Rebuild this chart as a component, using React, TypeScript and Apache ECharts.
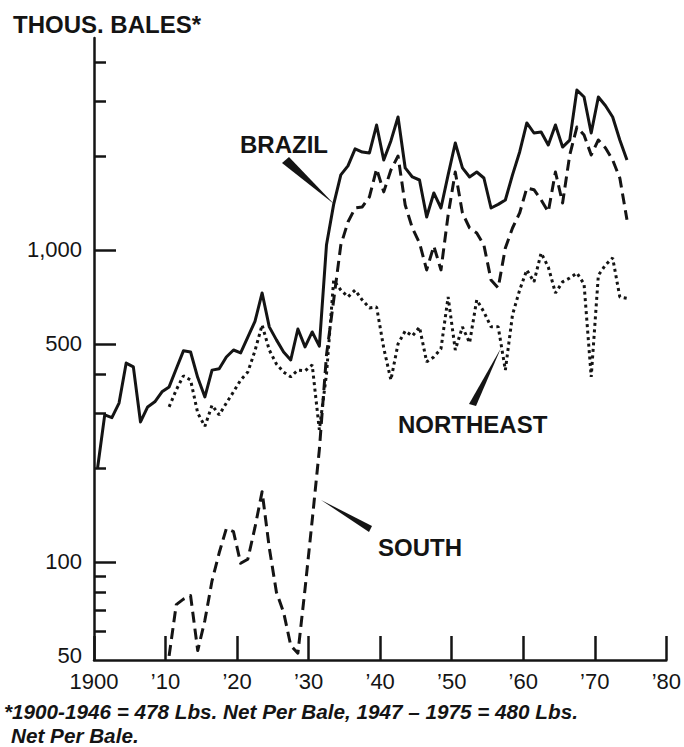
import React, { useEffect, useRef } from "react";
import * as echarts from "echarts";

// Cotton production, thousand bales (log scale). Crop years, plotted at mid-season.
const BRAZIL_FIRST_YEAR = 1900;
const brazil = [
  200, 296, 290, 323, 434, 422, 281, 314, 326, 351, // 1900-1909
  364, 416, 475, 471, 390, 338, 412, 416, 454, 478, // 1910-1919
  468, 526, 590, 728, 567, 515, 471, 444, 558, 489, // 1920-1929
  546, 492, 1040, 1400, 1740, 1860, 2110, 2060, 2046, 2515, // 1930-1939
  1943, 2236, 2668, 1832, 1714, 1676, 1276, 1523, 1363, 1740, // 1940-1949
  2202, 1832, 1714, 1778, 1701, 1363, 1400, 1446, 1740, 2061, // 1950-1959
  2553, 2371, 2390, 2170, 2515, 2137, 2250, 3257, 3092, 2371, // 1960-1969
  3092, 2900, 2668, 2252, 1943, // 1970-1974
];

const REGION_FIRST_YEAR = 1910;
const northeast = [
  314, 356, 395, 383, 300, 272, 318, 296, 323, 351, // 1910-1919
  383, 406, 475, 575, 478, 431, 406, 392, 412, 410, // 1920-1929
  428, 265, 400, 800, 744, 707, 744, 691, 652, 657, // 1930-1939
  485, 383, 500, 550, 530, 566, 438, 454, 482, 707, // 1940-1949
  478, 567, 504, 692, 633, 567, 567, 412, 620, 744, // 1950-1959
  863, 790, 978, 882, 728, 790, 813, 844, 778, 392, // 1960-1969
  830, 895, 943, 707, 700, // 1970-1974
];
const south = [
  50, 73, 76, 78, 52, 65, 87, 107, 128, 125, // 1910-1919
  99, 102, 129, 168, 111, 80, 69, 54, 51, 82, // 1920-1929
  136, 229, 461, 690, 1037, 1229, 1363, 1374, 1479, 1820, // 1930-1939
  1535, 1804, 2000, 1394, 1176, 1053, 863, 1030, 863, 1295, // 1940-1949
  1778, 1314, 1176, 1134, 1037, 801, 756, 1015, 1176, 1314, // 1950-1959
  1580, 1560, 1446, 1324, 1778, 1414, 2016, 2478, 2335, 2016, // 1960-1969
  2252, 2123, 1943, 1700, 1250, // 1970-1974
];

const X_MIN = 1900;
const X_MAX = 1980;
const X_STEP = 10;
const xTickLabels = ["1900", "\u201910", "\u201920", "\u201930", "\u201940", "\u201950", "\u201960", "\u201970", "\u201980"];

const Y_MIN = 48.5;
const Y_MAX = 4780;
const yLabelValues = [50, 100, 500, 1000];
const yMajorTicks = [100, 500, 1000];
const yMinorTicks = [60, 70, 80, 90, 200, 300, 400, 2000, 3000, 4000];

const MID_SEASON = 0.5;
const INK = "#141414";
const FONT = '"Liberation Sans", Arial, Helvetica, sans-serif';

const toPoints = (first: number, vals: number[]) =>
  vals.map((v, i) => [first + i + MID_SEASON, Math.log10(v)]);

const lg = (arr: number[]) => arr.map((v) => Math.log10(v));

export default function App() {
  const ref = useRef<HTMLDivElement>(null);

  useEffect(() => {
    if (!ref.current) return;
    const chart = echarts.init(ref.current, undefined, { renderer: "svg" });

    const yCommon = {
      type: "value" as const,
      min: Math.log10(Y_MIN),
      max: Math.log10(Y_MAX),
      position: "left" as const,
      splitLine: { show: false },
    };

    const textStyle = (size: number, weight = "bold", style = "normal") =>
      `${style} ${weight} ${size}px ${FONT}`;

    chart.setOption({
      animation: false,
      backgroundColor: "#ffffff",
      grid: { left: 94, right: 12, top: 38, bottom: 87 },
      xAxis: {
        type: "value",
        min: X_MIN,
        max: X_MAX,
        interval: X_STEP,
        axisLine: { show: true, lineStyle: { color: INK, width: 2.5 } },
        axisTick: { show: true, inside: true, length: 24, lineStyle: { color: INK, width: 2.5 } },
        splitLine: { show: false },
        axisLabel: {
          show: true,
          margin: 10,
          color: INK,
          fontSize: 22,
          fontFamily: FONT,
          showMinLabel: true,
          showMaxLabel: true,
          formatter: (v: number) => xTickLabels[Math.round((v - X_MIN) / X_STEP)] ?? "",
        },
      },
      yAxis: [
        {
          ...yCommon,
          axisLine: { show: true, lineStyle: { color: INK, width: 2.5 } },
          axisTick: {
            show: true,
            inside: true,
            length: 22,
            customValues: lg(yMajorTicks),
            lineStyle: { color: INK, width: 2.5 },
          },
          axisLabel: {
            show: true,
            inside: false,
            margin: 12,
            color: INK,
            fontSize: 22,
            fontFamily: FONT,
            customValues: lg(yLabelValues),
            formatter: (v: number) => Math.round(Math.pow(10, v)).toLocaleString("en-US"),
          },
        },
        {
          ...yCommon,
          axisLine: { show: false },
          axisTick: {
            show: true,
            inside: true,
            length: 12,
            customValues: lg(yMinorTicks),
            lineStyle: { color: INK, width: 2.5 },
          },
          axisLabel: { show: false },
        },
      ],
      series: [
        {
          name: "Brazil",
          type: "line",
          yAxisIndex: 0,
          data: toPoints(BRAZIL_FIRST_YEAR, brazil),
          showSymbol: false,
          symbol: "none",
          lineStyle: { color: INK, width: 3, type: "solid", join: "round" },
          z: 3,
        },
        {
          name: "South",
          type: "line",
          yAxisIndex: 0,
          data: toPoints(REGION_FIRST_YEAR, south),
          showSymbol: false,
          symbol: "none",
          lineStyle: { color: INK, width: 3, type: [11, 6], join: "round" },
          z: 2,
        },
        {
          name: "Northeast",
          type: "line",
          yAxisIndex: 0,
          data: toPoints(REGION_FIRST_YEAR, northeast),
          showSymbol: false,
          symbol: "none",
          lineStyle: { color: INK, width: 3, type: [3, 3.5], cap: "butt" },
          z: 2,
        },
      ],
      graphic: [
        {
          type: "text",
          x: 13,
          y: 24,
          style: { text: "THOUS. BALES*", fill: INK, font: textStyle(24), textAlign: "left", textVerticalAlign: "middle" },
        },
        {
          type: "text",
          x: 240,
          y: 144,
          style: { text: "BRAZIL", fill: INK, font: textStyle(24), textAlign: "left", textVerticalAlign: "middle" },
        },
        {
          type: "text",
          x: 398,
          y: 424,
          style: { text: "NORTHEAST", fill: INK, font: textStyle(24), textAlign: "left", textVerticalAlign: "middle" },
        },
        {
          type: "text",
          x: 378,
          y: 547,
          style: { text: "SOUTH", fill: INK, font: textStyle(24), textAlign: "left", textVerticalAlign: "middle" },
        },
        {
          type: "polygon",
          shape: { points: [[282, 163], [289, 157], [334, 204]] },
          style: { fill: INK },
        },
        {
          type: "polygon",
          shape: { points: [[469, 404], [476, 406], [501, 348]] },
          style: { fill: INK },
        },
        {
          type: "polygon",
          shape: { points: [[321, 500], [372, 526], [369, 532]] },
          style: { fill: INK },
        },
        {
          type: "text",
          x: 4,
          y: 711,
          style: {
            text: "*1900-1946 = 478 Lbs. Net Per Bale, 1947 \u2013 1975 = 480 Lbs.",
            fill: INK,
            font: textStyle(20.7, "bold", "italic"),
            textAlign: "left",
            textVerticalAlign: "middle",
          },
        },
        {
          type: "text",
          x: 11,
          y: 735,
          style: {
            text: "Net Per Bale.",
            fill: INK,
            font: textStyle(20.7, "bold", "italic"),
            textAlign: "left",
            textVerticalAlign: "middle",
          },
        },
      ],
    });

    return () => chart.dispose();
  }, []);

  return (
    <div
      ref={ref}
      style={{ width: 684, height: 747, position: "absolute", left: 0, top: 0, background: "#fff" }}
    />
  );
}
